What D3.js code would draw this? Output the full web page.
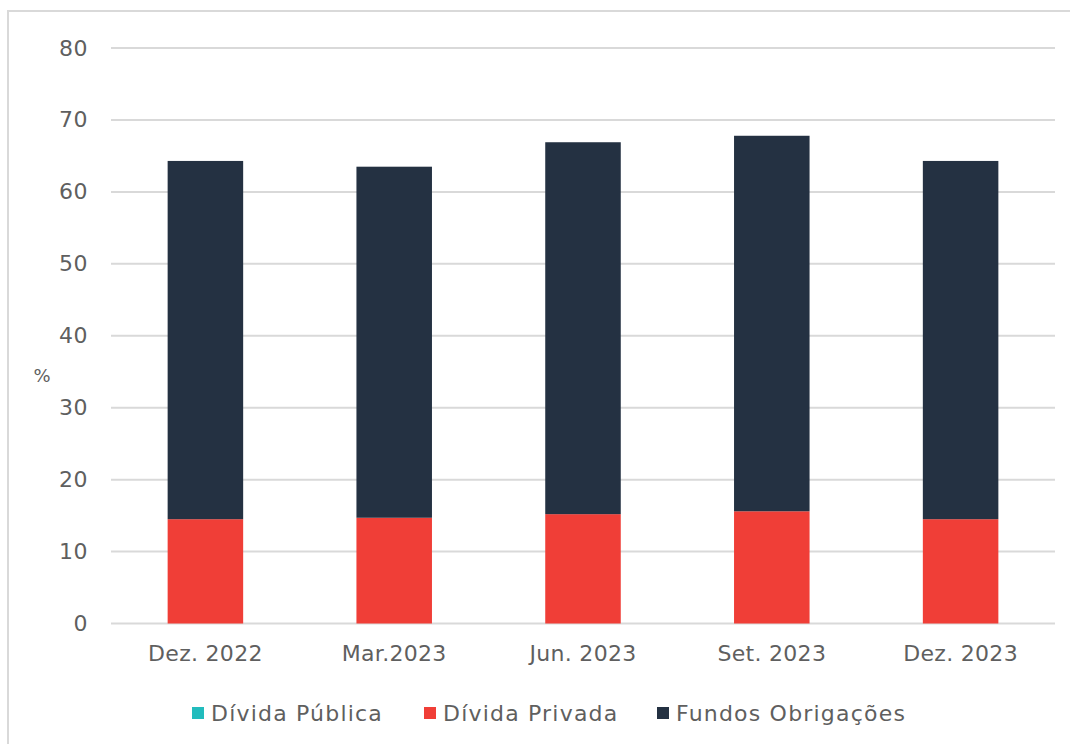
<!DOCTYPE html>
<html>
<head>
<meta charset="utf-8">
<script src="https://cdn.jsdelivr.net/npm/d3@7"></script>
<style>
  body { margin: 0; background: #fff; }
  text { font-family: "DejaVu Sans", "Noto Sans", sans-serif; fill: #5f5f5f; }
</style>
</head>
<body>
<div id="chart"></div>
<script>
var categories = ["Dez. 2022", "Mar.2023", "Jun. 2023", "Set. 2023", "Dez. 2023"];
var dividaPublica = [0, 0, 0, 0, 0];
var dividaPrivada = [14.5, 14.7, 15.2, 15.6, 14.5];
var fundosObrigacoes = [49.8, 48.8, 51.7, 52.2, 49.8];
var seriesNames = ["Dívida Pública", "Dívida Privada", "Fundos Obrigações"];
var seriesColors = ["#22bcbd", "#f03e37", "#243142"];
var yTicks = [0, 10, 20, 30, 40, 50, 60, 70, 80];

var W = 1070, H = 744;
var margin = { top: 48, right: 15, bottom: 120, left: 111 },
    width = 1055 - margin.left,
    height = 623.5 - margin.top;

var svg = d3.select("#chart").append("svg")
  .attr("width", W).attr("height", H);

// outer frame
svg.append("rect")
  .attr("x", 8).attr("y", 11)
  .attr("width", W + 10).attr("height", H + 10)
  .attr("fill", "none").attr("stroke", "#d9d9d9").attr("stroke-width", 2);

var g = svg.append("g")
  .attr("transform", "translate(" + margin.left + "," + margin.top + ")");

var x = d3.scaleBand().domain(categories).range([0, width]).paddingInner(0.6).paddingOuter(0.3);
var y = d3.scaleLinear().domain([0, 80]).range([height, 0]);

// gridlines
g.append("g")
  .selectAll("line")
  .data(yTicks)
  .enter().append("line")
  .attr("x1", 0).attr("x2", width)
  .attr("y1", function (d) { return y(d); })
  .attr("y2", function (d) { return y(d); })
  .attr("stroke", "#d9d9d9").attr("stroke-width", 2);

var yAxis = d3.axisLeft(y).tickValues(yTicks).tickSize(0).tickPadding(23);
g.append("g").call(yAxis)
  .call(function (a) { a.select(".domain").remove(); })
  .selectAll("text").style("font-size", "22px").style("letter-spacing", "0.5px");

var xAxis = d3.axisBottom(x).tickSize(0).tickPadding(22);
g.append("g").attr("transform", "translate(0," + height + ")").call(xAxis)
  .call(function (a) { a.select(".domain").remove(); })
  .selectAll("text").style("font-size", "22px").style("letter-spacing", "0.3px");

svg.append("text")
  .attr("x", 42).attr("y", 382)
  .attr("text-anchor", "middle")
  .style("font-size", "18px")
  .text("%");

// stacked data
var rows = categories.map(function (c, i) {
  return { cat: c, s0: dividaPublica[i], s1: dividaPrivada[i], s2: fundosObrigacoes[i] };
});
var stack = d3.stack().keys(["s0", "s1", "s2"]);
var layers = stack(rows);

g.selectAll(".layer")
  .data(layers)
  .enter().append("g")
  .attr("class", "layer")
  .attr("fill", function (d, i) { return seriesColors[i]; })
  .selectAll("rect")
  .data(function (d) { return d; })
  .enter().append("rect")
  .attr("x", function (d) { return x(d.data.cat); })
  .attr("width", x.bandwidth())
  .attr("y", function (d) { return y(d[1]); })
  .attr("height", function (d) { return y(d[0]) - y(d[1]); });

// legend
var legendX = [192, 424, 657];
var legend = svg.append("g");
seriesNames.forEach(function (name, i) {
  legend.append("rect")
    .attr("x", legendX[i]).attr("y", 707)
    .attr("width", 12).attr("height", 12)
    .attr("fill", seriesColors[i]);
  legend.append("text")
    .attr("x", legendX[i] + 19).attr("y", 721)
    .style("font-size", "22px")
    .style("letter-spacing", "1.2px")
    .text(name);
});
</script>
</body>
</html>
